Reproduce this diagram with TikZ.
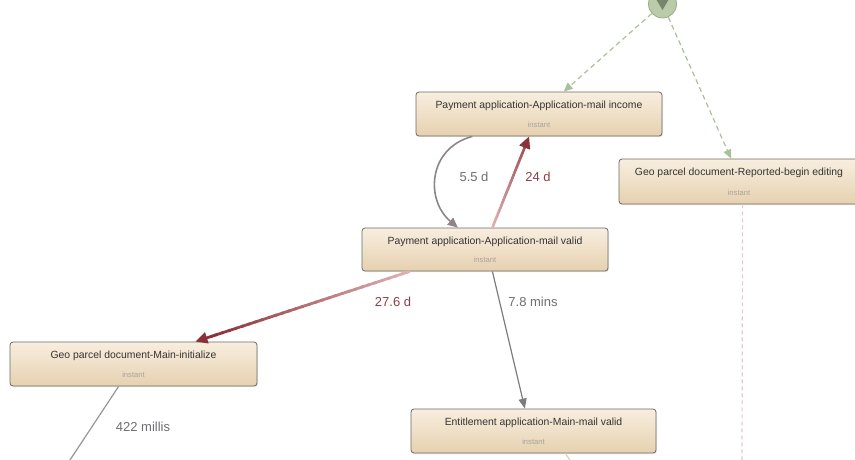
\documentclass[tikz,border=0pt]{standalone}
\usepackage{fontspec}
\setmainfont{Liberation Sans}
\usetikzlibrary{arrows.meta,calc,shadows}

\definecolor{boxtop}{HTML}{F8EEDF}
\definecolor{boxbot}{HTML}{E6D1B0}
\definecolor{boxline}{HTML}{6E6A66}
\definecolor{boxtext}{HTML}{333333}
\definecolor{subtext}{HTML}{A8A29C}
\definecolor{startfill}{HTML}{B9CBA8}
\definecolor{startline}{HTML}{98AE88}
\definecolor{startmark}{HTML}{76866A}
\definecolor{greendash}{HTML}{A9C19B}
\definecolor{pinkdash}{HTML}{E3CCCC}
\definecolor{redhi}{HTML}{8A3139}
\definecolor{redlo}{HTML}{DDB1B3}
\definecolor{plumhi}{HTML}{6F6068}
\definecolor{plumlo}{HTML}{B9AEB3}
\definecolor{greyedge}{HTML}{7C7C7C}
\definecolor{lbltext}{HTML}{6E6E72}
\definecolor{lblred}{HTML}{8E3E46}

\tikzset{
  activity/.style={rectangle, rounded corners=3pt, draw=boxline, line width=0.8pt,
    top color=boxtop, bottom color=boxbot, minimum height=44pt, inner sep=0pt,
    drop shadow={opacity=0.18, shadow xshift=1pt, shadow yshift=-1.2pt}},
  acttext/.style={text=boxtext, font=\fontsize{10.4}{12}\selectfont, inner sep=0pt},
  subtxt/.style={text=subtext, font=\fontsize{7.6}{9}\selectfont, inner sep=0pt},
  edgelabel/.style={font=\fontsize{13}{15}\selectfont, inner sep=0pt},
  startdash/.style={greendash, line width=1.2pt, dash pattern=on 5pt off 3.5pt,
    -{Triangle[length=9pt,width=8pt]}},
}

% A straight connector whose colour fades from #3 (start) to #4 (end), width #5
\newcommand\fadeline[5]{%
  \foreach \k in {0,...,29}{%
    \pgfmathsetmacro\ta{\k/30}%
    \pgfmathsetmacro\tb{min(1,(\k+1.3)/30)}%
    \pgfmathtruncatemacro\mix{100*\k/29}%
    \draw[line width=#5, color=#4!\mix!#3] ($(#1)!\ta!(#2)$) -- ($(#1)!\tb!(#2)$);
  }}

\begin{document}
\begin{tikzpicture}[x=1pt,y=1pt]
\useasboundingbox (0,0) rectangle (855,-459);

% start event
\node[circle, minimum size=28pt, inner sep=0pt, fill=startfill, draw=startline, line width=0.8pt] (start) at (662.5,-4) {};
\fill[startmark] (656,1) -- (669,1) -- (662.5,-10) -- cycle;

% activities
\node[activity, minimum width=246pt] (inc) at (539,-114) {};
\node[acttext] at ([yshift=-14pt]inc.north) {Payment application-Application-mail income};
\node[subtxt] at ([yshift=12pt]inc.south) {instant};

\node[activity, minimum width=240pt, minimum height=45pt] (rep) at (739,-181.5) {};
\node[acttext] at ([yshift=-14pt]rep.north) {Geo parcel document-Reported-begin editing};
\node[subtxt] at ([yshift=12pt]rep.south) {instant};

\node[activity, minimum width=246pt, minimum height=43pt] (val) at (485,-249.5) {};
\node[acttext] at ([yshift=-14pt]val.north) {Payment application-Application-mail valid};
\node[subtxt] at ([yshift=12pt]val.south) {instant};

\node[activity, minimum width=247pt] (ini) at (133.5,-364) {};
\node[acttext] at ([yshift=-14pt]ini.north) {Geo parcel document-Main-initialize};
\node[subtxt] at ([yshift=12pt]ini.south) {instant};

\node[activity, minimum width=245pt] (ent) at (533.5,-431) {};
\node[acttext] at ([yshift=-14pt]ent.north) {Entitlement application-Main-mail valid};
\node[subtxt] at ([yshift=12pt]ent.south) {instant};

% attachment points on the box borders
\coordinate (incA) at ($(inc.north west)!0.60!(inc.north east)$);
\coordinate (repA) at ($(rep.north west)!0.467!(rep.north east)$);
\coordinate (incB) at ($(inc.south west)!0.46!(inc.south east)$);
\coordinate (incC) at ($(inc.south west)!0.23!(inc.south east)$);
\coordinate (valT1) at ($(val.north west)!0.53!(val.north east)$);
\coordinate (valT2) at ($(val.north west)!0.39!(val.north east)$);
\coordinate (valB1) at ($(val.south west)!0.195!(val.south east)$);
\coordinate (valB2) at ($(val.south west)!0.53!(val.south east)$);
\coordinate (iniT) at ($(ini.north west)!0.75!(ini.north east)$);
\coordinate (iniB) at ($(ini.south west)!0.44!(ini.south east)$);
\coordinate (entT) at ($(ent.north west)!0.465!(ent.north east)$);
\coordinate (entB) at ($(ent.south west)!0.63!(ent.south east)$);
\coordinate (repB) at ($(rep.south west)!0.515!(rep.south east)$);
\coordinate (offA) at (68,-463);
\coordinate (offB) at (742,-463);
\coordinate (offC) at (573,-465);

% start connectors
\draw[startdash] (start) -- (incA);
\draw[startdash] (start) -- (repA);

% continuing connectors leaving the view
\draw[pinkdash, line width=1.2pt, dash pattern=on 4pt off 3pt] (repB) -- (offB);
\draw[pinkdash, line width=1.2pt] (entB) -- (offC);
\draw[greyedge!80, line width=1.2pt] (iniB) -- (offA);

% mail income -> mail valid (curved)
\draw[plumlo!45!plumhi, line width=1.6pt, -{Triangle[length=10pt,width=9pt]}]
  (incC) .. controls (428,-148) and (425,-200) .. (valT2);

% mail valid -> mail income
\fadeline{valT1}{$(valT1)!0.9!(incB)$}{redlo}{redhi!75!redlo}{2.6pt}
\draw[redhi, line width=2.6pt, -{Triangle[length=12pt,width=11pt]}] ($(valT1)!0.88!(incB)$) -- (incB);

% mail valid -> main initialize
\fadeline{valB1}{$(valB1)!0.93!(iniT)$}{redlo}{redhi}{2.8pt}
\draw[redhi, line width=2.8pt, -{Triangle[length=12pt,width=11pt]}] ($(valB1)!0.92!(iniT)$) -- (iniT);

% mail valid -> entitlement
\draw[greyedge, line width=1.2pt, -{Triangle[length=10pt,width=8pt]}] (valB2) -- (entT);

% labels
\node[edgelabel, text=lbltext] (l1) at (474,-177) {5.5 d};
\node[edgelabel, text=lblred] (l2) at (538,-177) {24 d};
\node[edgelabel, text=lblred] (l3) at (393,-302) {27.6 d};
\node[edgelabel, text=lbltext] (l4) at (533,-302) {7.8 mins};
\node[edgelabel, text=lbltext] (l5) at (143,-427) {422 millis};
\end{tikzpicture}
\end{document}
